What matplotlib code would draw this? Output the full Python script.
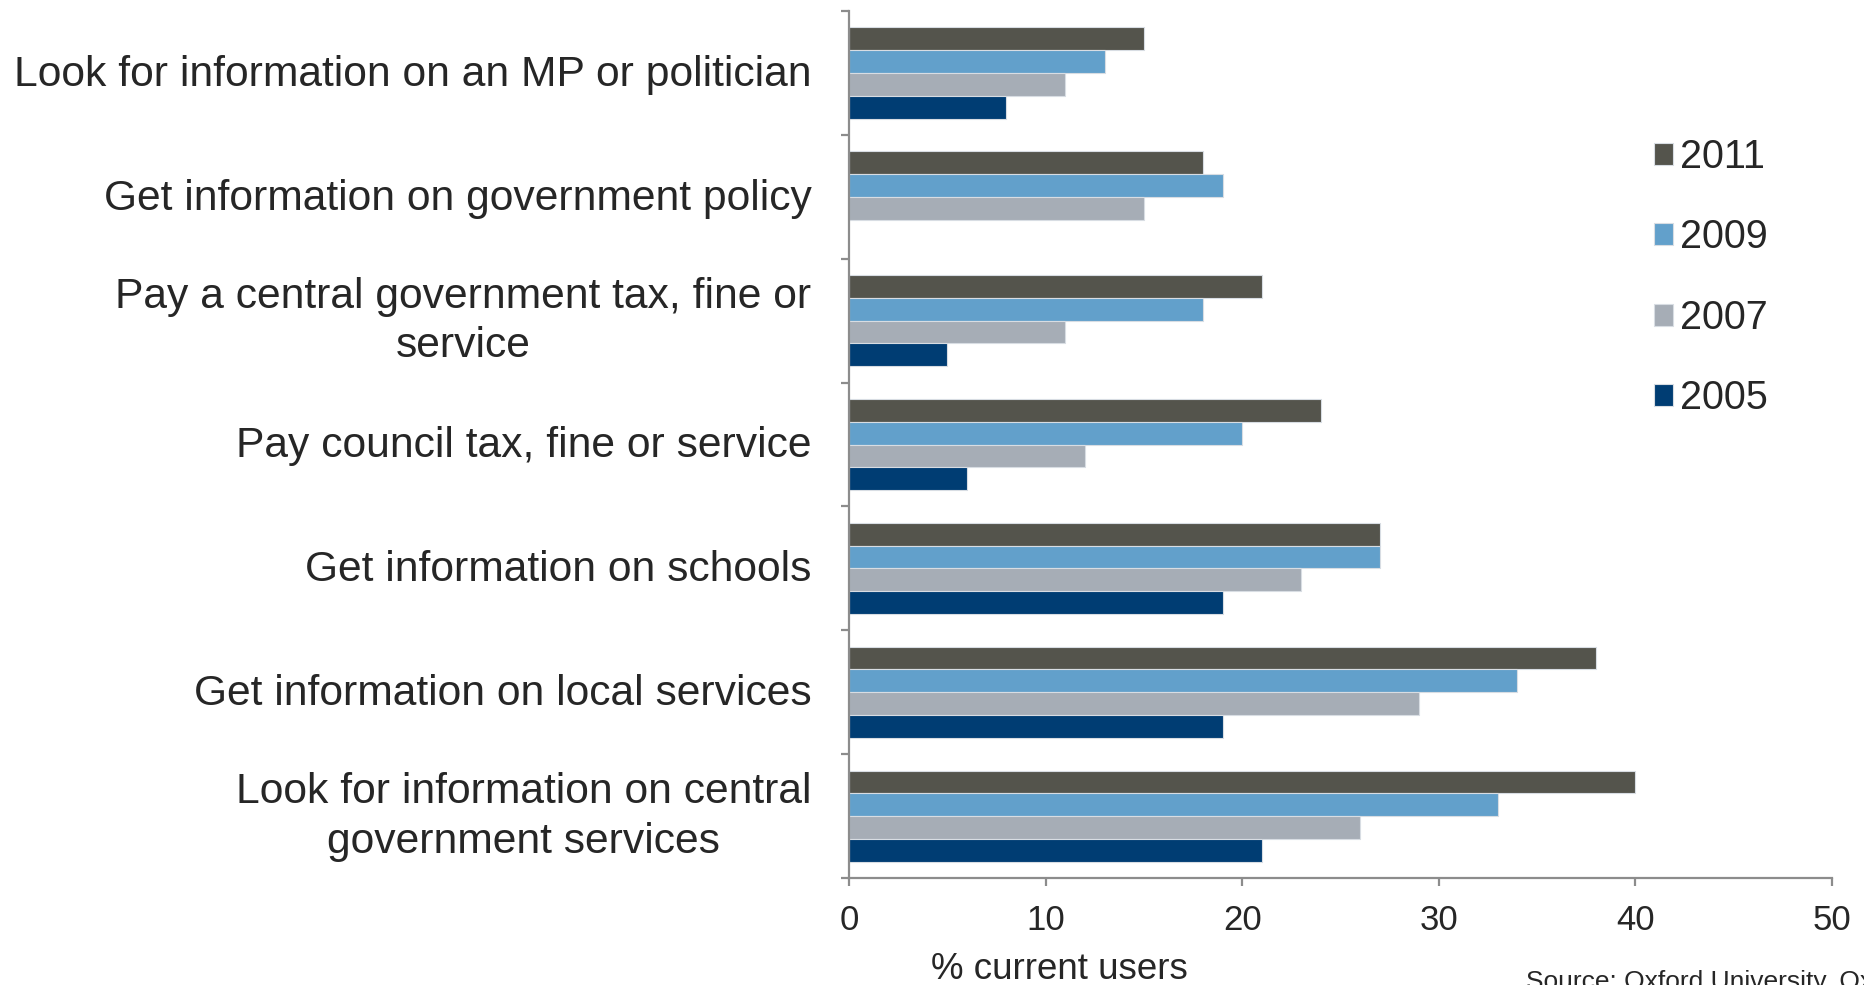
import numpy as np
import matplotlib
matplotlib.use("Agg")
import matplotlib.pyplot as plt
from matplotlib.transforms import ScaledTranslation

plt.rcParams['font.family'] = ['Liberation Sans', 'DejaVu Sans']

categories = ["Look for information on an MP or politician",
              "Get information on government policy",
              "Pay a central government tax, fine or\nservice",
              "Pay council tax, fine or service",
              "Get information on schools",
              "Get information on local services",
              "Look for information on central\ngovernment services"]
years = ["2011", "2009", "2007", "2005"]
v2011 = [15, 18, 21, 24, 27, 38, 40]
v2009 = [13, 19, 18, 20, 27, 34, 33]
v2007 = [11, 15, 11, 12, 23, 29, 26]
v2005 = [8, np.nan, 5, 6, 19, 19, 21]
colors = ["#54544c", "#62a0cb", "#a6adb6", "#003d73"]

fig = plt.figure(figsize=(18.65, 9.85), dpi=100)
ax = fig.add_axes([0.4552, 0.1086, 0.5271, 0.8802])

y = np.arange(len(categories))
h = 0.184
series = [v2011, v2009, v2007, v2005]
for k in range(4):
    ax.barh(y + (k - 1.5) * h, series[k], height=h, color=colors[k],
            edgecolor="#d8dde3", linewidth=0.8, label=years[k])

ax.set_xlim(0, 50)
ax.set_ylim(len(categories) - 0.5, -0.5)
ax.set_xticks([0, 10, 20, 30, 40, 50])
ax.set_yticks(y)
ax.set_yticklabels(categories, multialignment='center', linespacing=1.3)
ax.set_yticks(np.arange(-0.5, len(categories), 1), minor=True)

gray = "#8c8c8c"
for s in ["top", "right"]:
    ax.spines[s].set_visible(False)
for s in ["left", "bottom"]:
    ax.spines[s].set_color(gray)
    ax.spines[s].set_linewidth(1.6)

ax.tick_params(axis='y', which='major', length=0, pad=27, labelsize=30.7, labelcolor="#262626")
ax.tick_params(axis='y', which='minor', length=6, width=1.6, color=gray)
ax.tick_params(axis='x', which='major', length=6, width=1.6, color=gray, pad=13,
               labelsize=25, labelcolor="#262626")

# nudge labels up a little (two-line ones a bit more)
for lab in ax.get_yticklabels():
    dy = 6 if "\n" in lab.get_text() else 2
    lab.set_transform(lab.get_transform() + ScaledTranslation(0, dy / 72, fig.dpi_scale_trans))

leg = ax.legend(loc='upper left', bbox_to_anchor=(0.8675, 0.896), bbox_transform=fig.transFigure,
                frameon=False, fontsize=28.5, handlelength=0.48, handleheight=0.48,
                handletextpad=0.2, labelspacing=1.07)
for t in leg.get_texts():
    t.set_color("#262626")

fig.text(0.568, 0.016, "% current users", fontsize=26.5, color="#262626", ha='center', va='center')
fig.text(0.818, 0.003, "Source: Oxford University, Oxford Internet Institute", fontsize=19,
         color="#262626", ha='left', va='center')

fig.savefig("out.png", dpi=100)
